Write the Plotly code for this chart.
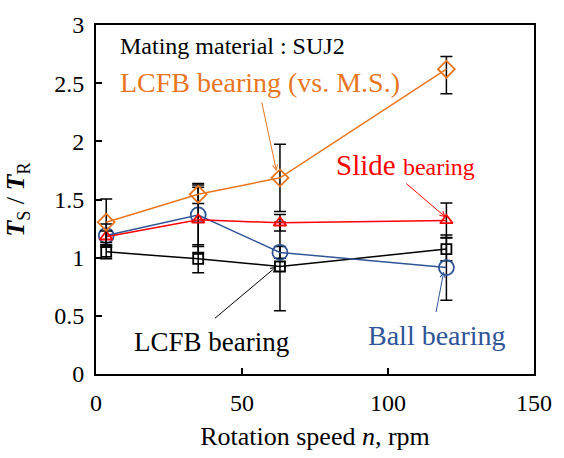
import plotly.graph_objects as go

speed = [3.5, 35, 63, 120]

lcfb_ms = [1.305, 1.545, 1.686, 2.62]
lcfb_ms_err_plus = [0.2, 0.08, 0.29, 0.11]
lcfb_ms_err_minus = [0.2, 0.08, 0.29, 0.21]

slide = [1.18, 1.325, 1.30, 1.32]
slide_err = [0.05, 0.28, 0.07, 0.15]

ball = [1.19, 1.367, 1.045, 0.915]
ball_err = [0.1, 0.27, 0.05, 0.28]

lcfb = [1.05, 0.99, 0.924, 1.074]
lcfb_err = [0.06, 0.12, 0.38, 0.1]

FONT = "Liberation Serif, Times New Roman, serif"
ORANGE = "#E8761F"
BLUE = "#2F5597"
RED = "#FF0000"
BLACK = "#000000"

fig = go.Figure()

def add(y, ep, em, color, symbol, size, name):
    fig.add_trace(go.Scatter(
        x=speed, y=y, mode="lines+markers", name=name,
        line=dict(color=color, width=1.5),
        marker=dict(symbol=symbol, size=size, color=color,
                    line=dict(color=color, width=1.8)),
        error_y=dict(type="data", array=ep, arrayminus=em, symmetric=False,
                     color="black", thickness=1.5, width=6),
    ))

add(lcfb, lcfb_err, lcfb_err, BLACK, "square-open", 10, "LCFB bearing")
add(ball, ball_err, ball_err, BLUE, "circle-open", 15, "Ball bearing")
add(slide, slide_err, slide_err, RED, "triangle-up-open", 11, "Slide bearing")
add(lcfb_ms, lcfb_ms_err_plus, lcfb_ms_err_minus, ORANGE, "diamond-open", 13, "LCFB bearing (vs. M.S.)")

annotations = [
    dict(x=7.5, y=2.82, text="Mating material : SUJ2", showarrow=False,
         xanchor="left", yanchor="middle", font=dict(family=FONT, size=24, color=BLACK)),
    dict(x=7.5, y=2.508, text="LCFB bearing (vs. M.S.)", showarrow=False,
         xanchor="left", yanchor="middle", font=dict(family=FONT, size=28, color=ORANGE)),
    dict(x=81.6, y=1.797, text="Slide <span style='font-size:24px'>bearing</span>", showarrow=False,
         xanchor="left", yanchor="middle", font=dict(family=FONT, size=29, color=RED)),
    dict(x=12.3, y=0.271, text="LCFB bearing", showarrow=False,
         xanchor="left", yanchor="middle", font=dict(family=FONT, size=27, color=BLACK)),
    dict(x=92.5, y=0.33, text="Ball bearing", showarrow=False,
         xanchor="left", yanchor="middle", font=dict(family=FONT, size=28, color=BLUE)),
    # arrows
    dict(x=61.8, y=1.746, ax=-15, ay=-70, text="", showarrow=True, arrowhead=5,
         arrowsize=1, arrowwidth=1, arrowcolor=ORANGE),
    dict(x=119.8, y=1.347, ax=-41, ay=-35, text="", showarrow=True, arrowhead=5,
         arrowsize=1, arrowwidth=1, arrowcolor=RED),
    dict(x=61.8, y=0.924, ax=-63, ay=53, text="", showarrow=True, arrowhead=5,
         arrowsize=1, arrowwidth=1, arrowcolor=BLACK),
    dict(x=119.1, y=0.881, ax=-8, ay=42, text="", showarrow=True, arrowhead=5,
         arrowsize=1, arrowwidth=1, arrowcolor=BLUE),
]

fig.update_layout(
    width=564, height=458,
    margin=dict(l=96, r=29, t=20, b=84),
    paper_bgcolor="white", plot_bgcolor="white",
    showlegend=False,
    font=dict(family=FONT, color="black"),
    annotations=annotations,
    xaxis=dict(range=[0, 150], tickvals=[0, 50, 100, 150], ticks="inside", ticklen=6,
               tickwidth=1.5, tickcolor="black", ticklabelstandoff=6,
               showline=True, linecolor="black", linewidth=2, mirror=True,
               showgrid=False, zeroline=False,
               tickfont=dict(family=FONT, size=24),
               title=dict(text="Rotation speed <i>n</i>, rpm", font=dict(family=FONT, size=26),
                          standoff=12)),
    yaxis=dict(range=[0, 3], tickvals=[0, 0.5, 1, 1.5, 2, 2.5, 3], ticks="inside", ticklen=6,
               tickwidth=1.5, tickcolor="black", ticklabelstandoff=5,
               showline=True, linecolor="black", linewidth=2, mirror=True,
               showgrid=False, zeroline=False,
               tickfont=dict(family=FONT, size=24),
               title=dict(text="<b><i>T</i></b><sub>S</sub> / <b><i>T</i></b><sub>R</sub>",
                          font=dict(family=FONT, size=26), standoff=22)),
)

fig.write_html("out.html")
